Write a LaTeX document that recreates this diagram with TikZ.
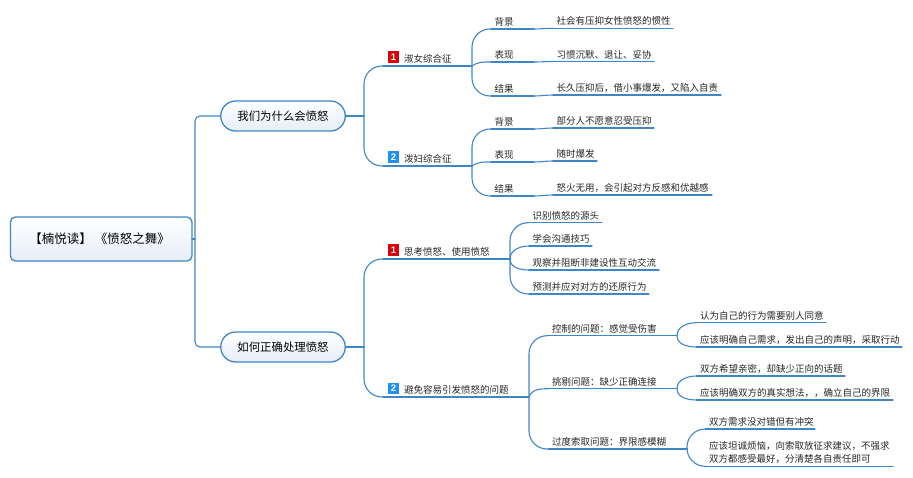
\documentclass[tikz,border=0pt]{standalone}
\usepackage{fontspec}
\setmainfont{Noto Sans CJK SC}
\newfontfamily\badgefont{Liberation Sans}
\definecolor{mapblue}{HTML}{3F86C6}
\definecolor{maptext}{HTML}{262626}
\definecolor{fillend}{HTML}{E6EEF7}
\definecolor{badgered}{HTML}{D9000C}
\definecolor{badgeblue}{HTML}{2090F5}
\tikzset{
  conn/.style={draw=mapblue,line width=1.1pt,line cap=round,line join=round},
  rootbox/.style={draw=mapblue,line width=1.3pt,rounded corners=5pt,top color=white,bottom color=fillend,
    minimum width=181.5pt,minimum height=44pt,inner sep=0pt,outer sep=0pt,text=black,font=\fontsize{12.5}{15}\selectfont},
  pillbox/.style={draw=mapblue,line width=1.3pt,rounded corners=14.9pt,top color=white,bottom color=fillend,
    minimum width=124.5pt,minimum height=30pt,inner sep=0pt,outer sep=0pt,text=black,font=\fontsize{11.4}{14}\selectfont},
  leafbox/.style={anchor=south west,inner xsep=0pt,inner ysep=1.4pt,outer sep=0pt,text depth=2pt,
    align=left,text=maptext,font=\fontsize{9.5}{13.7}\selectfont},
  twolines/.style={text depth=15.7pt},
  badgebox/.style={minimum size=11.5pt,inner sep=0pt,outer sep=0pt,text=white,
    font=\badgefont\bfseries\fontsize{9.5}{10}\selectfont},
  redbadge/.style={badgebox,fill=badgered},
  bluebadge/.style={badgebox,fill=badgeblue},
}
% [extra style], name, x start, x end, y of underline, text
\newcommand\leafn[6][]{%
  \pgfmathsetmacro\leafw{#4-#3}%
  \node[leafbox,#1,text width=\leafw pt] (#2) at (#3,#5) {\hspace*{3.5pt}#6};}
% underline of a node
\newcommand\underl[1]{\draw[conn] (#1.south west) -- (#1.south east);}
% corner branch with long vertical run: from a point to a node's underline
\newcommand\cornerp[2]{\draw[conn,rounded corners=18pt] (#1) |- (#2.south west);\underl{#2}}
\newcommand\cornerb[2]{\cornerp{#1.south east}{#2}}
% short curved branch: parent, child, out angle
\newcommand\shortb[3]{\draw[conn] (#1.south east) to[out=#3,in=180] (#2.south west);\underl{#2}}
\begin{document}
\begin{tikzpicture}[x=1pt,y=-1pt]
\useasboundingbox (0,0) rectangle (913,478);
% main boxes
\node[rootbox] (root) at (101.2,239) {【楠悦读】\kern3pt《愤怒之舞》\kern3pt};
\node[pillbox] (t1) at (283,116) {我们为什么会愤怒};
\node[pillbox] (t2) at (283,347) {如何正确处理愤怒};
\coordinate (trunk) at (195,239);
\coordinate (j1) at (364,116);
\coordinate (j2) at (364,347);
\draw[conn] (root.east) -- (trunk);
\draw[conn,rounded corners=5pt] (trunk) |- (t1.west);
\draw[conn,rounded corners=5pt] (trunk) |- (t2.west);
\draw[conn] (t1.east) -- (j1);
\draw[conn] (t2.east) -- (j2);
% second level
\leafn{s1}{383}{472}{66}{\hspace*{17.5pt}淑女综合征}
\leafn{s2}{383}{472}{166}{\hspace*{17.5pt}泼妇综合征}
\leafn{s3}{383}{510}{259}{\hspace*{17.5pt}思考愤怒、使用愤怒}
\leafn{s4}{383}{529}{397}{\hspace*{17.5pt}避免容易引发愤怒的问题}
\node[redbadge] (b1) at (393.5,57.2) {1};
\node[bluebadge] (b2) at (393.5,157.2) {2};
\node[redbadge] (b3) at (393.5,249.8) {1};
\node[bluebadge] (b4) at (393.5,388.6) {2};
\cornerp{j1}{s1}
\cornerp{j1}{s2}
\cornerp{j2}{s3}
\cornerp{j2}{s4}
% group 1
\leafn{a1}{491}{534}{29}{背景}
\leafn{a2}{491}{534}{62}{表现}
\leafn{a3}{491}{534}{96}{结果}
\leafn{a1x}{553}{673}{28.3}{社会有压抑女性愤怒的惯性}
\leafn{a2x}{553}{654}{61.5}{习惯沉默、退让、妥协}
\leafn{a3x}{553}{721}{95}{长久压抑后，借小事爆发，又陷入自责}
\cornerb{s1}{a1}
\shortb{s1}{a2}{35}
\cornerb{s1}{a3}
\shortb{a1}{a1x}{0}
\shortb{a2}{a2x}{0}
\shortb{a3}{a3x}{0}
% group 2
\leafn{c1}{491}{534}{129}{背景}
\leafn{c2}{491}{534}{162}{表现}
\leafn{c3}{491}{534}{196}{结果}
\leafn{c1x}{553}{654}{128}{部分人不愿意忍受压抑}
\leafn{c2x}{553}{597}{161}{随时爆发}
\leafn{c3x}{553}{712}{195}{怒火无用，会引起对方反感和优越感}
\cornerb{s2}{c1}
\shortb{s2}{c2}{35}
\cornerb{s2}{c3}
\shortb{c1}{c1x}{0}
\shortb{c2}{c2x}{0}
\shortb{c3}{c3x}{0}
% group 3
\leafn{d1}{529}{602}{222.7}{识别愤怒的源头}
\leafn{d2}{529}{592}{246}{学会沟通技巧}
\leafn{d3}{529}{659}{270}{观察并阻断非建设性互动交流}
\leafn{d4}{529}{649}{294}{预测并应对对方的还原行为}
\cornerb{s3}{d1}
\shortb{s3}{d2}{90}
\shortb{s3}{d3}{-90}
\cornerb{s3}{d4}
% group 4
\leafn{e1}{548.5}{677}{335.7}{控制的问题：感觉受伤害}
\leafn{e2}{548.5}{677}{388.7}{挑剔问题：缺少正确连接}
\leafn{e3}{548.5}{687}{449}{过度索取问题：界限感模糊}
\cornerb{s4}{e1}
\shortb{s4}{e2}{70}
\cornerb{s4}{e3}
\leafn{f1}{696.5}{826}{322.7}{认为自己的行为需要别人同意}
\leafn{f2}{696.5}{902}{347}{应该明确自己需求，发出自己的声明，采取行动}
\leafn{f3}{696.5}{845}{376}{双方希望亲密，却缺少正向的话题}
\leafn{f4}{696.5}{893}{400}{应该明确双方的真实想法，，确立自己的界限}
\leafn{f5}{705.5}{815}{429}{双方需求没对错但有冲突}
\leafn[twolines]{f6}{705.5}{893}{466.3}{应该坦诚烦恼，向索取放征求建议，不强求\\\hspace*{3.5pt}双方都感受最好，分清楚各自责任即可}
\shortb{e1}{f1}{90}
\shortb{e1}{f2}{-90}
\shortb{e2}{f3}{90}
\shortb{e2}{f4}{-90}
\cornerb{e3}{f5}
\cornerb{e3}{f6}
\end{tikzpicture}
\end{document}
